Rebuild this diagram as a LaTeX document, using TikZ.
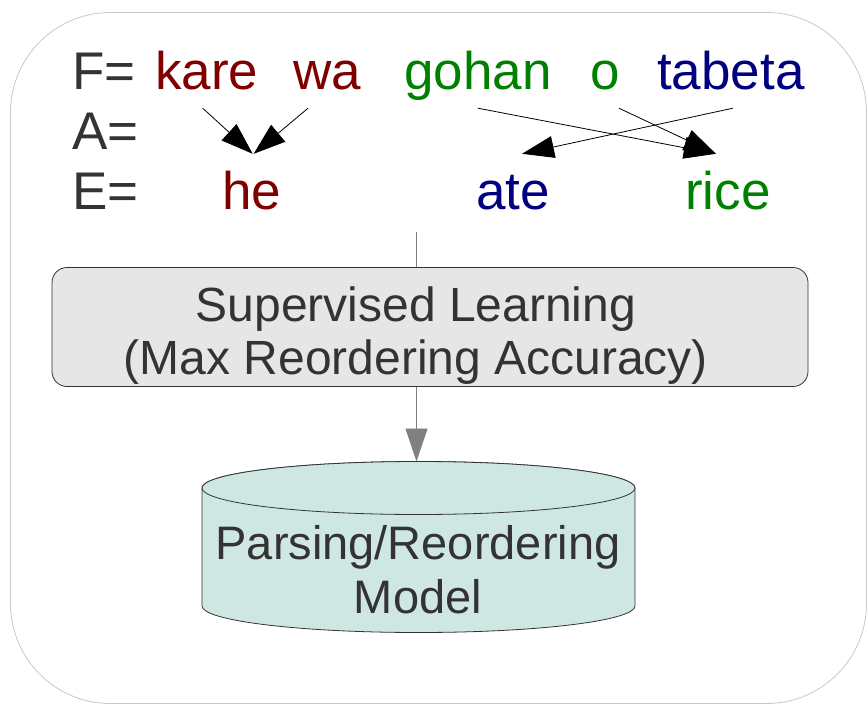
\documentclass[tikz,border=0pt]{standalone}
\usepackage{fontspec}
\setmainfont{Liberation Sans}
\definecolor{wdred}{HTML}{800000}
\definecolor{wdgreen}{HTML}{008000}
\definecolor{wdblue}{HTML}{000080}
\definecolor{txtgray}{HTML}{333333}
\definecolor{boxgray}{HTML}{E6E6E6}
\definecolor{modelteal}{HTML}{CFE7E3}
\definecolor{framegray}{HTML}{C8C8C8}
\definecolor{flowgray}{HTML}{808080}
\usetikzlibrary{arrows.meta}

\begin{document}
\begin{tikzpicture}[x=1pt, y=-1pt,
    every node/.style={inner sep=0pt, text=txtgray},
    word/.style={anchor=base west, font=\fontsize{53}{60}\selectfont,
                 text height=55pt, text depth=19pt},
    align arrow/.style={-{Triangle[length=32pt, width=22pt]}, line width=0.8pt},
    flow/.style={flowgray, line width=0.8pt},
    learnbox/.style={draw=txtgray, rounded corners=15pt, fill=boxgray, line width=0.8pt,
                     minimum width=756pt, minimum height=119pt},
    boxtext/.style={align=center, font=\fontsize{48}{53}\selectfont},
    modelcyl/.style={draw=txtgray, fill=modelteal, line width=0.8pt},
    modeltext/.style={align=center, font=\fontsize{47}{54}\selectfont}
  ]
    \useasboundingbox (0,0) rectangle (867,704);
    \draw[framegray, line width=0.8pt, rounded corners=100pt] (10.5,12.5) rectangle (866.5,703.5);

    \node[word] (flabel) at (72,89) {F=};
    \node[word] (alabel) at (72,149) {A=};
    \node[word] (elabel) at (72,209) {E=};

    \node[word, text=wdred] (kare) at (155,89) {kare};
    \node[word, text=wdred] (wa) at (293,89) {wa};
    \node[word, text=wdgreen] (gohan) at (404,89) {gohan};
    \node[word, text=wdgreen] (o) at (590,89) {o};
    \node[word, text=wdblue] (tabeta) at (657,89) {tabeta};

    \node[word, text=wdred] (he) at (222,209) {he};
    \node[word, text=wdblue] (ate) at (476,209) {ate};
    \node[word, text=wdgreen] (rice) at (685,209) {rice};

    \draw[align arrow] ([xshift=-4pt]kare.south) -- ([xshift=1pt]he.north);
    \draw[align arrow] ([xshift=-19pt]wa.south) -- ([xshift=2pt]he.north);
    \draw[align arrow] (gohan.south) -- ([xshift=-12pt]rice.north);
    \draw[align arrow] ([xshift=14pt]o.south) -- ([xshift=-12pt]rice.north);
    \draw[align arrow] ([xshift=2pt]tabeta.south) -- ([xshift=9pt]ate.north);

    \coordinate (datafoot) at (416.5,232);
    \node[learnbox] (learn) at (430,327) {};
    \node[boxtext] (learntxt) at (416,336) {Supervised Learning\\(Max Reordering Accuracy)};

    % model store
    \path[modelcyl] (202,488) -- (202,606) arc[start angle=180, end angle=0, x radius=216.5, y radius=26.5]
      -- (635,488) arc[start angle=0, end angle=-180, x radius=216.5, y radius=26.5] -- cycle;
    \draw[modelcyl] (418.5,488) ellipse[x radius=216.5, y radius=26.5];
    \coordinate (modeltop) at (418.5,461.5);
    \node[modeltext] (model) at (418,570) {Parsing/Reordering\\Model};

    \draw[flow] (datafoot) -- (learn.north -| datafoot);
    \draw[flow, -{Triangle[length=33pt, width=22pt]}] (learn.south -| datafoot) -- (modeltop -| datafoot);
  \end{tikzpicture}
\end{document}
